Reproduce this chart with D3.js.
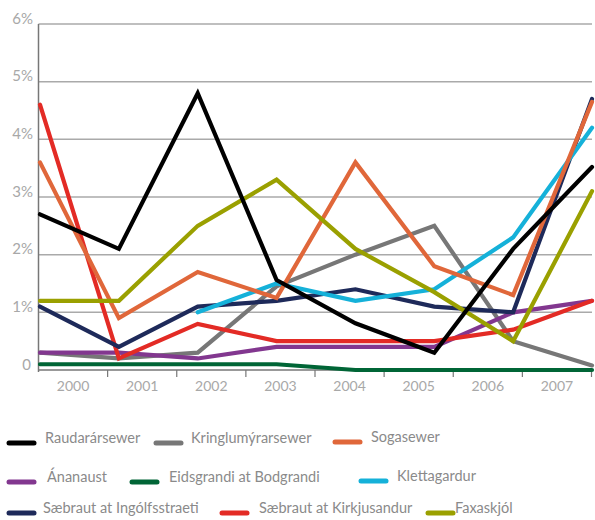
<!DOCTYPE html>
<html><head><meta charset="utf-8">
<script src="https://cdn.jsdelivr.net/npm/d3@7"></script>
<style>body{margin:0;background:#fff;} text{font-family:Lato,"Open Sans",sans-serif;}</style>
</head><body><svg id="c" width="595" height="520"></svg>
<script>
const years = ["2000","2001","2002","2003","2004","2005","2006","2007"];
const yTicks = [0,1,2,3,4,5,6];
const seriesNames = ["Raudarársewer","Kringlumýrarsewer","Sogasewer","Ánanaust","Eidsgrandi at Bodgrandi","Klettagardur","Sæbraut at Ingólfsstraeti","Sæbraut at Kirkjusandur","Faxaskjól"];
const raudarar = [2.7,2.1,4.8,1.56,0.81,0.3,2.1,3.52];
const kringlumyrar = [0.3,0.2,0.3,1.45,2.0,2.5,0.5,0.08];
const soga = [3.6,0.9,1.7,1.25,3.6,1.8,1.3,4.65];
const ananaust = [0.3,0.3,0.2,0.4,0.4,0.4,1.0,1.2];
const eidsgrandi = [0.1,0.1,0.1,0.1,0,0,0,0];
const klettagardur = [null,null,1.0,1.5,1.2,1.4,2.3,4.2];
const ingolfs = [1.1,0.4,1.1,1.2,1.4,1.1,1.0,4.7];
const kirkju = [4.6,0.2,0.8,0.5,0.5,0.5,0.7,1.2];
const faxa = [1.2,1.2,2.5,3.3,2.1,1.35,0.5,3.1];
const seriesValues = [raudarar,kringlumyrar,soga,ananaust,eidsgrandi,klettagardur,ingolfs,kirkju,faxa];
const colors = ["#000000","#777777","#e0673a","#82378f","#006536","#15b1d9","#1e2a5a","#e32b25","#9aa000"];
// legend layout (positions only)
const legendPos = [[9,439],[156,439],[335,438],[9,478],[132,478],[361,477],[9,509],[222,509],[428,509]];
const legendTextDx = [36,35,36,38,37,36,34,37,27];

const svg = d3.select("#c");
const y = d3.scaleLinear().domain([0,6]).range([370,24]);
const xPt = d3.scalePoint().domain(years).range([40,592]);
const xBand = d3.scaleBand().domain(years).range([38.5,591.5]);

svg.append("g").selectAll("line").data(yTicks.filter(d=>d>0)).join("line")
  .attr("x1",38.5).attr("x2",592).attr("y1",d=>y(d)).attr("y2",d=>y(d))
  .attr("stroke","#aaaaaa").attr("stroke-width",1.5);
svg.append("g").selectAll("text").data(yTicks).join("text")
  .attr("x",d=>d===0?31:33).attr("y",d=>y(d)-4).attr("text-anchor","end")
  .attr("dominant-baseline","middle").attr("font-size",15).attr("fill","#a8a8a8")
  .text(d=>d===0?"0":d+"%");
svg.append("line").attr("x1",38.5).attr("x2",38.5).attr("y1",24).attr("y2",372)
  .attr("stroke","#777").attr("stroke-width",1.5);
const xAxis = d3.axisBottom(xBand).tickSize(0).tickPadding(0);
const gx = svg.append("g").attr("transform","translate(0,370)").call(xAxis);
gx.select(".domain").remove();
gx.selectAll("text").attr("font-size",14).attr("fill","#a8a8a8").attr("font-family","Lato, sans-serif").attr("dy",0).attr("y",17).attr("dominant-baseline","middle");
svg.append("line").attr("x1",38.5).attr("x2",592).attr("y1",370).attr("y2",370).attr("stroke","#777").attr("stroke-width",1.5);
svg.append("g").selectAll("line").data(years).join("line")
  .attr("x1",d=>xBand(d)+xBand.bandwidth()).attr("x2",d=>xBand(d)+xBand.bandwidth())
  .attr("y1",370).attr("y2",377).attr("stroke","#777").attr("stroke-width",1.2);

const line = d3.line().defined(d=>d.v!==null).x(d=>xPt(d.yr)).y(d=>y(d.v));
const order = [4,1,3,7,6,5,2,8,0];
svg.append("g").selectAll("path").data(order).join("path")
  .attr("d",i=>line(seriesValues[i].map((v,j)=>({yr:years[j],v}))))
  .attr("fill","none").attr("stroke",i=>colors[i]).attr("stroke-width",4.2)
  .attr("stroke-linejoin","miter").attr("stroke-linecap","round");

const lg = svg.append("g").selectAll("g").data(seriesNames).join("g")
  .attr("transform",(d,i)=>`translate(${legendPos[i][0]},${legendPos[i][1]})`);
lg.append("line").attr("x1",0).attr("x2",25).attr("y1",4).attr("y2",4)
  .attr("stroke",(d,i)=>colors[i]).attr("stroke-width",5).attr("stroke-linecap","round");
lg.append("text").attr("x",(d,i)=>legendTextDx[i]).attr("y",0)
  .attr("dominant-baseline","middle").attr("font-size",14.5).attr("fill","#8a8a8a").text(d=>d);
</script></body></html>
